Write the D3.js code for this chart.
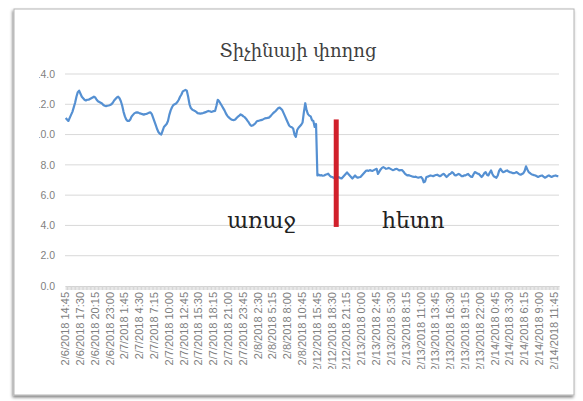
<!DOCTYPE html>
<html>
<head>
<meta charset="utf-8">
<script src="https://cdn.jsdelivr.net/npm/d3@7"></script>
<style>
  body { margin: 0; background: #fff; }
  svg { display: block; }
</style>
</head>
<body>
<div id="chart"></div>
<script>
// Chart text
const title = "Տիչինայի փողոց";
const beforeLabel = "առաջ";
const afterLabel = "հետո";

// Values every 15 minutes (one row = one labelled step of 2:45)
const values = [
  11.1, 11.0, 10.9, 11.1, 11.3, 11.5, 11.8, 12.1, 12.5, 12.8, 12.9,
  12.7, 12.5, 12.4, 12.3, 12.25, 12.3, 12.3, 12.35, 12.4, 12.45, 12.5,
  12.45, 12.3, 12.2, 12.15, 12.1, 12.05, 11.95, 11.9, 11.88, 11.9, 11.92,
  11.95, 12.0, 12.1, 12.25, 12.35, 12.45, 12.5, 12.4, 12.2, 11.9, 11.5,
  11.2, 11.0, 10.9, 10.9, 11.0, 11.2, 11.3, 11.4, 11.45, 11.47, 11.45,
  11.4, 11.38, 11.35, 11.32, 11.35, 11.36, 11.4, 11.45, 11.47, 11.35, 11.1,
  10.85, 10.6, 10.35, 10.15, 10.05, 10.0, 10.25, 10.5, 10.6, 10.7, 10.9,
  11.3, 11.6, 11.8, 11.95, 12.0, 12.05, 12.15, 12.3, 12.5, 12.65, 12.85,
  12.9, 12.95, 12.9, 12.5, 12.0, 11.75, 11.65, 11.6, 11.56, 11.5, 11.42,
  11.4, 11.38, 11.4, 11.42, 11.45, 11.48, 11.52, 11.56, 11.54, 11.5, 11.52,
  11.55, 11.56, 11.9, 12.3, 12.2, 12.05, 11.9, 11.75, 11.6, 11.4, 11.25,
  11.15, 11.07, 11.0, 10.97, 10.96, 11.0, 11.1, 11.18, 11.25, 11.33, 11.28,
  11.2, 11.15, 11.05, 10.92, 10.8, 10.65, 10.58, 10.6, 10.67, 10.75, 10.88,
  10.9, 10.93, 10.95, 10.97, 11.02, 11.07, 11.08, 11.1, 11.12, 11.2, 11.3,
  11.4, 11.48, 11.55, 11.65, 11.75, 11.78, 11.7, 11.6, 11.4, 11.2, 11.0,
  10.8, 10.6, 10.52, 10.48, 10.4, 10.0, 9.85, 10.3, 10.45, 10.55, 10.65,
  10.8, 11.5, 12.07, 11.6, 11.35, 11.25, 11.2, 10.95, 10.9, 10.5, 10.7,
  7.3, 7.35, 7.3, 7.32, 7.28, 7.3, 7.35, 7.38, 7.42, 7.3, 7.22,
  7.2, 7.15, 7.1, 7.15, 7.2, 7.18, 7.12, 7.1, 7.2, 7.3, 7.4,
  7.5, 7.4, 7.3, 7.2, 7.1, 7.2, 7.3, 7.2, 7.15, 7.18, 7.2,
  7.3, 7.4, 7.5, 7.6, 7.63, 7.6, 7.65, 7.62, 7.6, 7.65, 7.7,
  7.74, 7.4, 7.55, 7.7, 7.8, 7.85, 7.8, 7.74, 7.76, 7.8, 7.75,
  7.7, 7.65, 7.68, 7.72, 7.74, 7.68, 7.63, 7.66, 7.65, 7.55, 7.42,
  7.35, 7.3, 7.32, 7.28, 7.25, 7.22, 7.2, 7.22, 7.18, 7.15, 7.18,
  7.2, 7.1, 6.85, 6.9, 7.2, 7.22, 7.26, 7.3, 7.28, 7.25, 7.3,
  7.33, 7.35, 7.3, 7.25, 7.3, 7.38, 7.4, 7.3, 7.2, 7.28, 7.38,
  7.42, 7.52, 7.45, 7.32, 7.3, 7.36, 7.4, 7.35, 7.26, 7.25, 7.3,
  7.3, 7.36, 7.4, 7.3, 7.22, 7.2, 7.38, 7.52, 7.48, 7.42, 7.4,
  7.3, 7.2, 7.3, 7.45, 7.52, 7.35, 7.3, 7.48, 7.63, 7.4, 7.25,
  7.2, 7.15, 7.3, 7.6, 7.74, 7.6, 7.52, 7.55, 7.6, 7.63, 7.56,
  7.52, 7.5, 7.46, 7.45, 7.48, 7.52, 7.45, 7.38, 7.35, 7.4, 7.45,
  7.6, 7.9, 7.7, 7.52, 7.45, 7.38, 7.35, 7.32, 7.3, 7.25, 7.2,
  7.24, 7.28, 7.3, 7.22, 7.15, 7.2, 7.26, 7.3, 7.25, 7.2, 7.24,
  7.28, 7.3, 7.26, 7.25
];

// Category labels shown on the x axis (every 11th category)
const tickLabels = [
  "2/6/2018 14:45", "2/6/2018 17:30", "2/6/2018 20:15", "2/6/2018 23:00",
  "2/7/2018 1:45", "2/7/2018 4:30", "2/7/2018 7:15", "2/7/2018 10:00",
  "2/7/2018 12:45", "2/7/2018 15:30", "2/7/2018 18:15", "2/7/2018 21:00",
  "2/7/2018 23:45", "2/8/2018 2:30", "2/8/2018 5:15", "2/8/2018 8:00",
  "2/8/2018 10:45", "2/12/2018 15:45", "2/12/2018 18:30", "2/12/2018 21:15",
  "2/13/2018 0:00", "2/13/2018 2:45", "2/13/2018 5:30", "2/13/2018 8:15",
  "2/13/2018 11:00", "2/13/2018 13:45", "2/13/2018 16:30", "2/13/2018 19:15",
  "2/13/2018 22:00", "2/14/2018 0:45", "2/14/2018 3:30", "2/14/2018 6:15",
  "2/14/2018 9:00", "2/14/2018 11:45"
];
const tickEvery = 11;
const yTicks = [0, 2, 4, 6, 8, 10, 12, 14];

// Red divider and its captions (category index / value)
const dividerAt = 201, dividerFrom = 3.9, dividerTo = 11.0;
const beforeAt = 120, afterAt = 235, captionAt = 3.85;

const W = 583, H = 401;
const svg = d3.select("#chart").append("svg")
    .attr("width", W)
    .attr("height", H);

// Frame with a soft shadow
const defs = svg.append("defs");
const f = defs.append("filter").attr("id", "shadow")
    .attr("x", "-5%").attr("y", "-5%").attr("width", "110%").attr("height", "110%");
f.append("feDropShadow")
    .attr("dx", -1).attr("dy", 2).attr("stdDeviation", 1.5)
    .attr("flood-color", "#000").attr("flood-opacity", 0.5);

svg.append("rect")
    .attr("x", 14).attr("y", 9)
    .attr("width", 560).attr("height", 386)
    .attr("fill", "#fff")
    .attr("stroke", "#b5b5b5")
    .attr("filter", "url(#shadow)");

// The source image cuts off the left of the y labels and the bottom of long x labels
defs.append("clipPath").attr("id", "ylab")
  .append("rect").attr("x", 39).attr("y", 0).attr("width", 40).attr("height", H);
defs.append("clipPath").attr("id", "xlab")
  .append("rect").attr("x", 0).attr("y", 0).attr("width", W).attr("height", 369);

// Scales
const x = d3.scalePoint()
    .domain(d3.range(values.length))
    .range([65, 559])
    .padding(0.5);
const y = d3.scaleLinear()
    .domain([0, 14])
    .range([286, 74]);

// Title
svg.append("text")
    .attr("x", 298)
    .attr("y", 57)
    .attr("text-anchor", "middle")
    .style("font-family", "DejaVu Serif, serif")
    .style("font-size", "18px")
    .style("fill", "#404040")
    .text(title);

// Gridlines
svg.append("g")
  .selectAll("line")
  .data(yTicks.slice(1))
  .join("line")
    .attr("x1", 65).attr("x2", 559)
    .attr("y1", d => y(d)).attr("y2", d => y(d))
    .attr("stroke", "#d9d9d9")
    .attr("stroke-width", 1);

// Y axis labels
svg.append("g")
    .attr("clip-path", "url(#ylab)")
  .selectAll("text")
  .data(yTicks)
  .join("text")
    .attr("x", 55)
    .attr("y", d => y(d))
    .attr("dy", "0.35em")
    .attr("text-anchor", "end")
    .style("font-family", "Liberation Sans, Arial, sans-serif")
    .style("font-size", "10.5px")
    .style("fill", "#7f7f7f")
    .text(d => d3.format(".1f")(d));

// X axis: category tick marks
const xAxis = svg.append("g")
    .attr("transform", `translate(0,${y(0)})`)
    .call(d3.axisBottom(x)
        .tickValues(x.domain())
        .tickSize(4)
        .tickSizeOuter(0)
        .tickFormat(""));
xAxis.select(".domain").attr("stroke", "#d0d0d0");
xAxis.selectAll(".tick line").attr("stroke", "#d6d6d6");

// X axis labels (rotated)
svg.append("g")
    .attr("clip-path", "url(#xlab)")
  .selectAll("text")
  .data(tickLabels)
  .join("text")
    .attr("transform", (d, i) => `translate(${x(i * tickEvery) + 3.5},292) rotate(-90)`)
    .attr("text-anchor", "end")
    .style("font-family", "Liberation Sans, Arial, sans-serif")
    .style("font-size", "11px")
    .style("fill", "#808080")
    .text(d => d);

// Data line
svg.append("path")
    .datum(values)
    .attr("fill", "none")
    .attr("stroke", "#5590d2")
    .attr("stroke-width", 2.2)
    .attr("stroke-linejoin", "round")
    .attr("d", d3.line()
        .x((d, i) => x(i))
        .y(d => y(d)));

// Red divider
svg.append("line")
    .attr("x1", x(dividerAt)).attr("x2", x(dividerAt))
    .attr("y1", y(dividerTo)).attr("y2", y(dividerFrom))
    .attr("stroke", "#d1202b")
    .attr("stroke-width", 5);

// Captions
svg.append("text")
    .attr("x", x(beforeAt))
    .attr("y", y(captionAt))
    .style("font-family", "DejaVu Serif, serif")
    .style("font-size", "22px")
    .style("fill", "#222")
    .text(beforeLabel);

svg.append("text")
    .attr("x", x(afterAt))
    .attr("y", y(captionAt))
    .style("font-family", "DejaVu Serif, serif")
    .style("font-size", "22px")
    .style("fill", "#222")
    .text(afterLabel);
</script>
</body>
</html>
